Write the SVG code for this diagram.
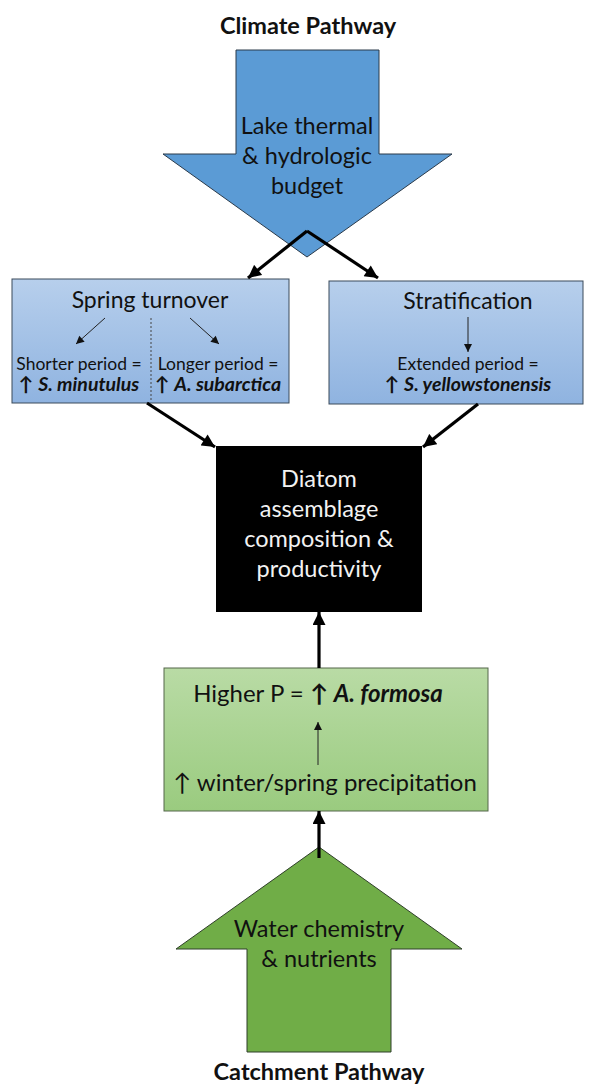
<svg xmlns="http://www.w3.org/2000/svg" width="596" height="1084" viewBox="0 0 596 1084">
<style>
text{font-family:Lato,"Liberation Sans",sans-serif;fill:#111;text-anchor:middle}
.big{font-size:23.5px}
.title{font-size:23.5px;font-weight:bold}
.hd{font-size:23px}
.gt{font-size:24px}
.sm{font-size:17.5px}
.sb{font-size:19.5px}
.bi{font-weight:bold;font-style:italic}
.wt{fill:#f2f2f2}
.conn{stroke:#000;stroke-width:3.2;fill:none}
.thin{stroke:#222;stroke-width:1;fill:none}
</style>
<defs>
<linearGradient id="gb" x1="0" y1="0" x2="0" y2="1"><stop offset="0" stop-color="#b7cfec"/><stop offset="1" stop-color="#8fb3e0"/></linearGradient>
<linearGradient id="gg" x1="0" y1="0" x2="0" y2="1"><stop offset="0" stop-color="#b9dba5"/><stop offset="1" stop-color="#9acb7f"/></linearGradient>
<marker id="ah" viewBox="0 0 10 10" refX="10" refY="5" markerWidth="14" markerHeight="13" markerUnits="userSpaceOnUse" orient="auto"><path d="M0,0L10,5L0,10z" fill="#000"/></marker>
<marker id="as" viewBox="0 0 10 10" refX="10" refY="5" markerWidth="9" markerHeight="8" markerUnits="userSpaceOnUse" orient="auto"><path d="M0,0L10,5L0,10z" fill="#111"/></marker>
</defs>

<g id="climate-label"><text class="title" x="308" y="34">Climate Pathway</text></g>

<g id="climate-arrow">
<path d="M236,50H379V154H452L307,257L163,154H236Z" fill="#5b9bd5" stroke="#2a3a4a" stroke-width="1"/>
<text class="big" x="307" y="134">Lake thermal</text>
<text class="big" x="307" y="164">&amp; hydrologic</text>
<text class="big" x="307" y="194">budget</text>
</g>

<g id="spring-turnover">
<rect x="12" y="279" width="277" height="124" fill="url(#gb)" stroke="#3a4a5a" stroke-width="1"/>
<text class="hd" x="150" y="308">Spring turnover</text>
<line class="thin" x1="105" y1="318" x2="76" y2="344" marker-end="url(#as)"/>
<line class="thin" x1="190" y1="318" x2="219" y2="344" marker-end="url(#as)"/>
<line x1="151" y1="318" x2="151" y2="401" stroke="#444" stroke-width="1" stroke-dasharray="2,2"/>
<text class="sm" x="79" y="370">Shorter period =</text>
<text class="sm" x="218" y="370">Longer period =</text>
<text class="sb" x="79" y="391"><tspan font-weight="bold">↑ </tspan><tspan class="bi">S. minutulus</tspan></text>
<text class="sb" x="218" y="391"><tspan font-weight="bold">↑ </tspan><tspan class="bi">A. subarctica</tspan></text>
</g>

<g id="stratification">
<rect x="329" y="281" width="254" height="123" fill="url(#gb)" stroke="#3a4a5a" stroke-width="1"/>
<text class="hd" x="468" y="309">Stratification</text>
<line class="thin" x1="468" y1="317" x2="468" y2="352" marker-end="url(#as)"/>
<text class="sm" x="468" y="370">Extended period =</text>
<text class="sb" x="468" y="391"><tspan font-weight="bold">↑ </tspan><tspan class="bi">S. yellowstonensis</tspan></text>
</g>

<g id="diatom">
<rect x="216" y="446" width="206" height="166" fill="#000"/>
<text class="big wt" x="319" y="487">Diatom</text>
<text class="big wt" x="319" y="517">assemblage</text>
<text class="big wt" x="319" y="547">composition &amp;</text>
<text class="big wt" x="319" y="577">productivity</text>
</g>

<g id="precipitation">
<rect x="164" y="668" width="324" height="143" fill="url(#gg)" stroke="#55664a" stroke-width="1"/>
<text class="gt" x="318" y="702">Higher P = <tspan font-weight="bold">↑ </tspan><tspan class="bi">A. formosa</tspan></text>
<line class="thin" x1="318" y1="765" x2="318" y2="722" marker-end="url(#as)"/>
<text class="gt" x="325" y="791">↑ winter/spring precipitation</text>
</g>

<g id="catchment-arrow">
<path d="M319,847L462,949H391V1052H247V949H176Z" fill="#70ad47" stroke="#2f3f2a" stroke-width="1"/>
<text class="big" x="319" y="937">Water chemistry</text>
<text class="big" x="319" y="967">&amp; nutrients</text>
</g>

<g id="catchment-label"><text class="title" x="319" y="1080">Catchment Pathway</text></g>

<g id="connectors">
<line class="conn" x1="307" y1="231" x2="248" y2="278" marker-end="url(#ah)"/>
<line class="conn" x1="307" y1="231" x2="378" y2="278" marker-end="url(#ah)"/>
<line class="conn" x1="147" y1="403" x2="215" y2="447" marker-end="url(#ah)"/>
<line class="conn" x1="478" y1="404" x2="423" y2="447" marker-end="url(#ah)"/>
<line class="conn" x1="319" y1="668" x2="319" y2="612" marker-end="url(#ah)"/>
<line class="conn" x1="319" y1="858" x2="319" y2="811" marker-end="url(#ah)"/>
</g>
</svg>
